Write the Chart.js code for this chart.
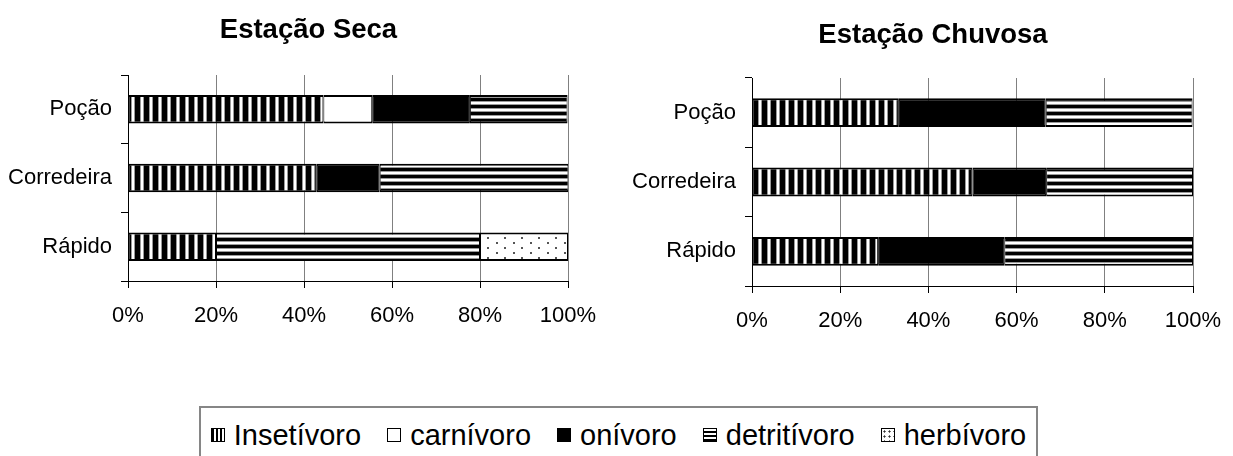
<!DOCTYPE html>
<html><head><meta charset="utf-8">
<script src="https://cdn.jsdelivr.net/npm/chart.js@4"></script>
<style>
html,body{margin:0;padding:0;background:#fff;width:1233px;height:456px;overflow:hidden;position:relative;font-family:'Liberation Sans',Arial,sans-serif}
#c1{position:absolute;left:0;top:0}
#c2{position:absolute;left:600px;top:0}
.title{position:absolute;font-weight:bold;font-size:27.5px;line-height:27.5px;white-space:nowrap;color:#000;transform:translateX(-50%)}
#t1{left:308.5px;top:14.5px}
#t2{left:933px;top:19.5px}
#legend{position:absolute;left:199px;top:406px;width:839px;height:70px;border:2px solid #868686;box-sizing:border-box}
#legrow{position:absolute;left:0;right:0;top:10px;height:34px;display:flex;justify-content:center;align-items:center;font-size:29px;color:#000;white-space:nowrap}
.item{display:flex;align-items:center;margin:0 13px}
.sw{width:14px;height:14px;box-sizing:border-box;border:1.5px solid #000;margin-right:9px}
</style>
</head><body>
<canvas id="c1" width="616" height="340"></canvas>
<canvas id="c2" width="626" height="345"></canvas>
<div class="title" id="t1"></div>
<div class="title" id="t2"></div>
<div id="legend"><div id="legrow"></div></div>
<script>
// ---- data ----
const categories = ['Poção', 'Corredeira', 'Rápido'];
const seriesNames = ['Insetívoro', 'carnívoro', 'onívoro', 'detritívoro', 'herbívoro'];
const xTickValues = [0, 20, 40, 60, 80, 100];
const xTickLabels = ['0%', '20%', '40%', '60%', '80%', '100%'];
const titleSeca = 'Estação Seca';
const titleChuvosa = 'Estação Chuvosa';

const secaInsetivoro  = [44.4, 42.9, 20.0];
const secaCarnivoro   = [11.1, 0, 0];
const secaOnivoro     = [22.2, 14.3, 0];
const secaDetritivoro = [22.2, 42.9, 60.0];
const secaHerbivoro   = [0, 0, 20.0];

const chuvaInsetivoro  = [33.3, 50.0, 28.6];
const chuvaCarnivoro   = [0, 0, 0];
const chuvaOnivoro     = [33.3, 16.7, 28.6];
const chuvaDetritivoro = [33.3, 33.3, 42.8];
const chuvaHerbivoro   = [0, 0, 0];

document.getElementById('t1').textContent = titleSeca;
document.getElementById('t2').textContent = titleChuvosa;

// ---- patterns ----
function makePattern(w, h, draw) {
  const c = document.createElement('canvas');
  c.width = w; c.height = h;
  const g = c.getContext('2d');
  g.fillStyle = '#fff'; g.fillRect(0, 0, w, h);
  draw(g);
  return g.createPattern(c, 'repeat');
}
const patInset = makePattern(9, 8, g => { g.fillStyle = '#000'; g.fillRect(0, 0, 5, 8); g.fillStyle = '#999'; g.fillRect(5, 0, 1, 8); g.fillRect(8, 0, 1, 8); });
const patDetr  = makePattern(8, 7, g => { g.fillStyle = '#000'; g.fillRect(0, 0, 8, 3); g.fillStyle = '#999'; g.fillRect(0, 3, 8, 1); g.fillRect(0, 6, 8, 1); });
const patHerb  = makePattern(17, 10, g => { g.fillStyle = '#555'; g.fillRect(3, 2, 2, 2); g.fillRect(11, 7, 2, 2); });
const fills = [patInset, '#ffffff', '#000000', patDetr, patHerb];

function datasets(arrs) {
  return arrs.map((a, i) => ({
    label: seriesNames[i],
    data: a,
    backgroundColor: fills[i],
    borderColor: '#000',
    borderWidth: {top: 2, bottom: 2, left: 1, right: 1},
    borderSkipped: false,
    categoryPercentage: 1,
    barPercentage: 0.415
  }));
}

const FONT = "'Liberation Sans', Arial, sans-serif";

function makeOpts(padTop, axisW, padRight, axisH) {
  return {
    responsive: false,
    animation: false,
    indexAxis: 'y',
    layout: {padding: {left: 0, right: padRight, top: padTop, bottom: 0}},
    plugins: {legend: {display: false}, tooltip: {enabled: false}, title: {display: false}},
    scales: {
      x: {
        stacked: true, min: 0, max: 100,
        afterBuildTicks: s => { s.ticks = xTickValues.map(v => ({value: v})); },
        afterFit: s => { s.height = axisH; s.paddingLeft = 0; s.paddingRight = 0; },
        ticks: {
          color: '#000', font: {family: FONT, size: 22}, padding: 15, maxRotation: 0,
          callback: (v, i) => xTickLabels[i]
        },
        grid: {
          color: c => (c.tick && c.tick.value === 0) ? '#000' : '#808080',
          tickColor: '#000', tickLength: 7, lineWidth: 1, drawTicks: true
        },
        border: {color: '#000', width: 1}
      },
      y: {
        stacked: true,
        afterFit: s => { s.width = axisW; },
        ticks: {color: '#000', font: {family: FONT, size: 22}, padding: 9},
        grid: {drawOnChartArea: false, tickColor: '#000', tickLength: 7, offset: true},
        border: {color: '#000', width: 1}
      }
    }
  };
}

new Chart(document.getElementById('c1'), {
  type: 'bar',
  data: {labels: categories, datasets: datasets([secaInsetivoro, secaCarnivoro, secaOnivoro, secaDetritivoro, secaHerbivoro])},
  options: makeOpts(75, 128, 48, 59)
});
new Chart(document.getElementById('c2'), {
  type: 'bar',
  data: {labels: categories, datasets: datasets([chuvaInsetivoro, chuvaCarnivoro, chuvaOnivoro, chuvaDetritivoro, chuvaHerbivoro])},
  options: makeOpts(78, 152, 33, 59)
});

// ---- legend ----
const swatchCss = [
  'background:repeating-linear-gradient(90deg,#000 0 2px,#fff 2px 4px)',
  'background:#fff',
  'background:#000',
  'background:repeating-linear-gradient(0deg,#000 0 2px,#fff 2px 4px)',
  'background:#fff radial-gradient(circle,#333 0.9px,transparent 1.2px) 0 0/5px 5px'
];
const row = document.getElementById('legrow');
seriesNames.forEach((n, i) => {
  const it = document.createElement('div'); it.className = 'item';
  const sw = document.createElement('div'); sw.className = 'sw'; sw.style.cssText = swatchCss[i];
  const tx = document.createElement('span'); tx.textContent = n;
  it.appendChild(sw); it.appendChild(tx); row.appendChild(it);
});
</script>
</body></html>
